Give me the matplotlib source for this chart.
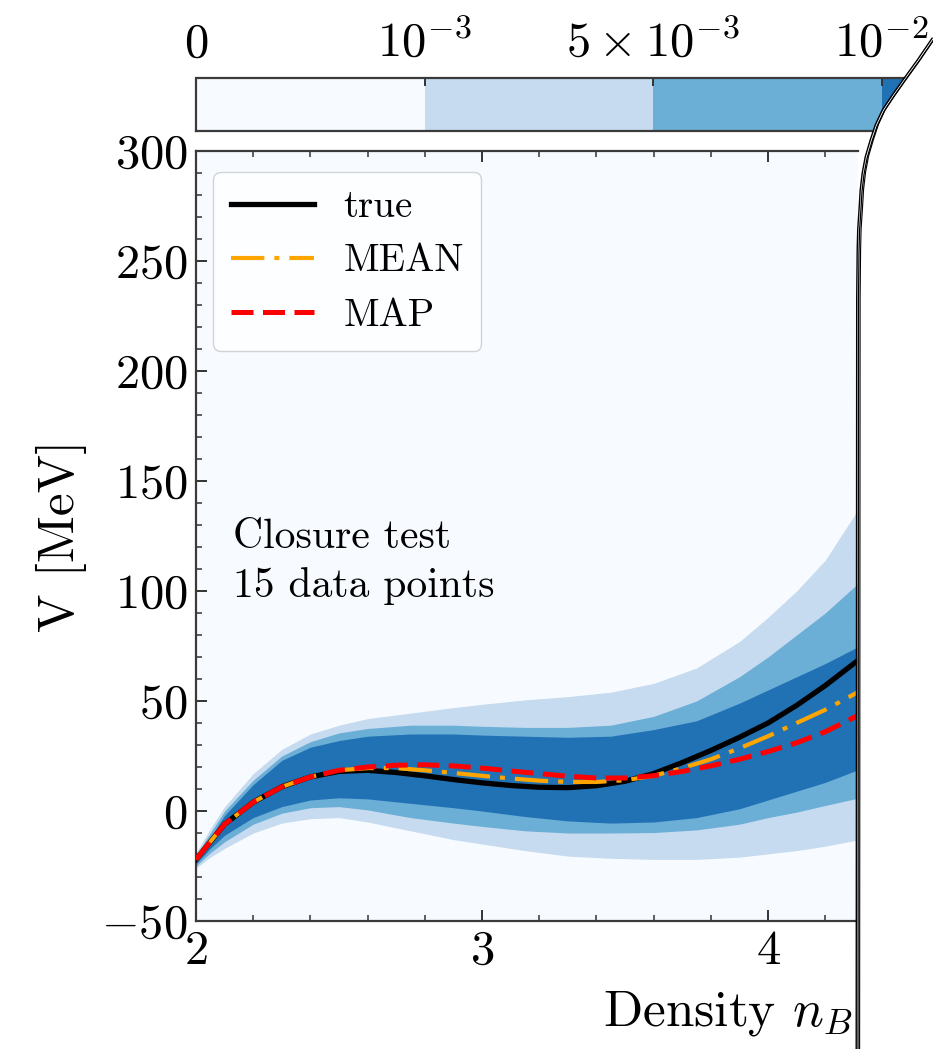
import numpy as np
import matplotlib
matplotlib.use("Agg")
import matplotlib.pyplot as plt
from matplotlib.colors import ListedColormap, BoundaryNorm
from matplotlib.ticker import MultipleLocator, FixedLocator
from matplotlib.patches import Polygon

plt.rcParams['font.family'] = ['cmr10']
plt.rcParams['mathtext.fontset'] = 'cm'
plt.rcParams['axes.formatter.use_mathtext'] = True
plt.rcParams['axes.unicode_minus'] = True

# ---------------- data ----------------
density = [2.0, 2.1, 2.2, 2.3, 2.4, 2.5, 2.6, 2.7, 2.8, 2.9, 3.0, 3.1, 3.2,
           3.3, 3.4, 3.5, 3.6, 3.7, 3.8, 3.9, 4.0, 4.1, 4.2, 4.3, 4.32]
v_true = [-22, -6, 4, 11, 15.5, 18, 18.5, 17.5, 16, 14.3, 12.8, 11.6, 10.8,
          10.6, 11.5, 13.5, 17, 22, 27.5, 33.5, 40, 48, 57, 67, 69]
v_mean = [-22, -6, 4, 11, 15.5, 18.5, 19.5, 19.5, 18.5, 17.3, 16, 14.8, 13.8,
          13.2, 13.2, 14, 16, 19.5, 23.5, 28.5, 34, 40, 46, 53, 54.5]
v_map = [-22, -6, 4, 11, 15.5, 18.5, 20, 20.8, 21, 20.5, 19.5, 18.2, 17,
         15.8, 15, 15, 16, 18, 20.5, 23.5, 27, 31, 36, 42.5, 44]

band_x = [2.0, 2.05, 2.1, 2.2, 2.3, 2.4, 2.5, 2.6, 2.75, 2.9, 3.0, 3.15, 3.3,
          3.45, 3.6, 3.75, 3.9, 4.0, 4.1, 4.2, 4.32]
outer_hi = [-19, -8, 2, 17, 28, 35, 39, 42, 44.5, 47, 48.5, 50.5, 52,
            54, 58, 65, 77, 88, 100, 114, 138]
mid_hi = [-20, -10, 0, 14, 25, 31.5, 35.5, 37.5, 39, 39, 38.5, 38, 38,
          39, 43, 50, 61, 70, 80, 90, 104]
core_hi = [-21, -12, -2, 12, 23, 29, 32, 34, 35, 35, 34.5, 34, 33.5,
           34, 37, 41, 49, 55, 61, 67, 75]
core_lo = [-24, -17, -11, -3, 2, 5, 6, 5.5, 3.5, 1.5, 0, -2.5, -4.5,
           -5.5, -5, -3, 1, 5, 9, 13, 19]
mid_lo = [-25, -19, -14, -6, -1, 1.5, 2, 0.5, -3, -5.5, -7, -9, -10,
          -10, -9.8, -8.6, -6, -3, -0.5, 2.5, 6]
outer_lo = [-26, -21, -17, -10, -5.5, -3.5, -3, -5, -9, -13, -15, -18, -20.5,
            -21.5, -22, -22, -21, -19.5, -18, -16, -13]

cbar_bounds = [0, 1e-3, 5e-3, 1e-2, 5e-2]
cbar_tick_labels = [r'$0$', r'$10^{-3}$', r'$5\times10^{-3}$', r'$10^{-2}$']
level_colors = ['#f7fbff', '#c6dbef', '#6baed6', '#2171b5']

series_labels = ['true', 'MEAN', 'MAP']

# ---------------- layout ----------------
W, H = 933, 1049
fig = plt.figure(figsize=(W / 100, H / 100), dpi=100)

ax_l, ax_r, ax_t, ax_b = 196, 858, 151, 921
ax = fig.add_axes([ax_l / W, 1 - ax_b / H, (ax_r - ax_l) / W, (ax_b - ax_t) / H])
px_per_unit = 286.0
ax.set_xlim(2, 2 + (ax_r - ax_l) / px_per_unit)
ax.set_ylim(-50, 300)
ax.set_facecolor(level_colors[0])

ax.fill_between(band_x, outer_lo, outer_hi, color=level_colors[1], lw=0, zorder=1)
ax.fill_between(band_x, mid_lo, mid_hi, color=level_colors[2], lw=0, zorder=1.1)
ax.fill_between(band_x, core_lo, core_hi, color=level_colors[3], lw=0, zorder=1.2)

ax.plot(density, v_true, color='black', lw=3.8, label=series_labels[0], zorder=3)
ax.plot(density, v_mean, color='#ffa500', lw=3.0, ls=(0, (8, 2.4, 1.2, 2.4)),
        label=series_labels[1], zorder=3.1)
ax.plot(density, v_map, color='red', lw=3.6, ls=(0, (4.4, 1.9)),
        label=series_labels[2], zorder=3.2)

ax.xaxis.set_major_locator(FixedLocator([2, 3, 4]))
ax.xaxis.set_minor_locator(MultipleLocator(0.2))
ax.yaxis.set_major_locator(MultipleLocator(50))
ax.yaxis.set_minor_locator(MultipleLocator(10))
ax.tick_params(which='both', direction='in', top=True, right=False,
               colors='#333333', labelcolor='black')
ax.tick_params(which='major', length=8, width=1.4, labelsize=35, pad=6)
ax.tick_params(which='minor', length=4.5, width=1.1)
for side in ['left', 'bottom', 'top']:
    ax.spines[side].set_linewidth(1.6)
    ax.spines[side].set_color('#3a3a3a')
ax.spines['right'].set_visible(False)

ax.set_ylabel(r'V [MeV]', fontsize=37, labelpad=10)
ax.set_xlabel(r'Density $n_B$', fontsize=37, ha='right')
ax.xaxis.set_label_coords((852 - ax_l) / (ax_r - ax_l), -0.088)

ax.text((233 - ax_l) / (ax_r - ax_l), (921 - 519) / 770.0,
        'Closure test\n15 data points', transform=ax.transAxes,
        fontsize=30, va='top', ha='left', linespacing=1.36)

leg = ax.legend(loc='upper left',
                bbox_to_anchor=((213 - ax_l) / (ax_r - ax_l), (ax_b - 172) / 770.0),
                borderaxespad=0, fontsize=28, handlelength=2.15, handletextpad=0.75,
                labelspacing=0.47, borderpad=0.45, framealpha=0.85,
                edgecolor='#cccccc', fancybox=True)
leg.get_frame().set_linewidth(1.0)

# ---------------- colorbar ----------------
cb_t, cb_b = 78, 131
seg_px = 228.5
cax = fig.add_axes([ax_l / W, 1 - cb_b / H, 4 * seg_px / W, (cb_b - cb_t) / H])
cmap = ListedColormap(level_colors)
norm = BoundaryNorm(cbar_bounds, cmap.N)
sm = plt.cm.ScalarMappable(norm=norm, cmap=cmap)
cb = fig.colorbar(sm, cax=cax, orientation='horizontal', spacing='uniform')
cb.set_ticks(cbar_bounds[:4])
cb.set_ticklabels(cbar_tick_labels)
cax.xaxis.set_ticks_position('top')
cax.xaxis.set_label_position('top')
cax.tick_params(direction='in', length=6, width=1.4, labelsize=35, pad=8,
                colors='#333333', labelcolor='black')
cb.outline.set_linewidth(1.6)
cb.outline.set_edgecolor('#3a3a3a')

# ---------------- torn page edge (decoration) ----------------
curl_x = [933, 918, 905, 893, 883, 876, 871, 866, 863, 861, 860, 858.5, 858, 857.5, 857]
curl_y = [38, 60, 78, 95, 110, 125, 140, 157, 173, 190, 207, 230, 250, 300, 1060]

ov = fig.add_axes([0, 0, 1, 1], zorder=20)
ov.set_xlim(0, W)
ov.set_ylim(H, 0)
ov.axis('off')
ov.patch.set_alpha(0)
cover = list(zip(curl_x, curl_y)) + [(960, 1060), (960, curl_y[0])]
ov.add_patch(Polygon(cover, closed=True, facecolor='white', edgecolor='none'))
for dx, dy, lw in [(-0.8, 0, 1.0), (1.0, 1.5, 0.9), (2.6, -1.0, 0.8)]:
    ov.plot([x + dx for x in curl_x], [y + dy for y in curl_y],
            color='black', lw=lw, solid_capstyle='round')

fig.savefig('out.png', dpi=100)
